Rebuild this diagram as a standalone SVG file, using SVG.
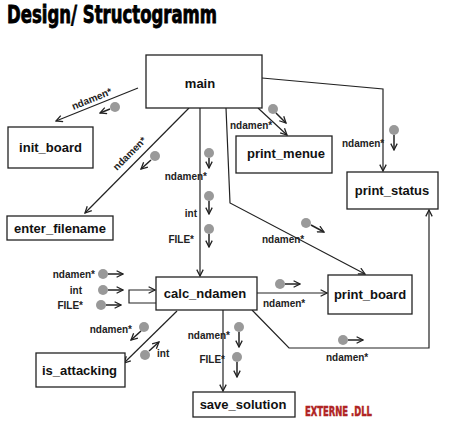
<svg xmlns="http://www.w3.org/2000/svg" width="450" height="428" viewBox="0 0 450 428">
<style>
.box{fill:#fff;stroke:#222;stroke-width:1.3}
.nt{font-family:"Liberation Sans",Arial,sans-serif;font-weight:bold;font-size:13px;fill:#111;text-anchor:middle}
.lb{font-family:"Liberation Sans",Arial,sans-serif;font-weight:bold;font-size:10px;fill:#222}
.e{text-anchor:end}
.c{fill:none;stroke:#222;stroke-width:1.2;marker-end:url(#ah)}
.s{fill:none;stroke:#222;stroke-width:1.5;marker-end:url(#ah)}
.d{fill:#999}
</style>
<defs>
<marker id="ah" viewBox="0 0 10 10" refX="9" refY="5" markerWidth="8" markerHeight="8" markerUnits="userSpaceOnUse" orient="auto">
<path d="M1,1 L9,5 L1,9" fill="none" stroke="#222" stroke-width="1.6"/>
</marker>
</defs>
<rect width="450" height="428" fill="#fff"/>
<text x="7" y="23" font-family="'Liberation Sans Narrow','DejaVu Sans Condensed',sans-serif" font-weight="bold" font-size="24" textLength="210" lengthAdjust="spacingAndGlyphs" fill="#000" stroke="#000" stroke-width="0.8">Design/ Structogramm</text>

<g id="connectors">
<polyline class="c" points="138,88 56,121"/>
<polyline class="c" points="189,108 85,213"/>
<polyline class="c" points="200,108 200,276"/>
<polyline class="c" points="258,108 287,135"/>
<polyline class="c" points="262,78 383,89 383,171"/>
<polyline class="c" points="226,108 230,203 365,274"/>
<polyline class="c" points="156,303 129,303 129,290 155,290"/>
<polyline class="c" points="257,293 327,293"/>
<polyline class="c" points="252,310 289,348 429,348 429,210"/>
<polyline class="c" points="223,310 223,391"/>
<polyline class="c" points="177,311 124,363"/>

<circle class="d" cx="115" cy="107" r="5"/><polyline class="s" points="110,109 100,113"/>
<circle class="d" cx="155" cy="156" r="5"/><polyline class="s" points="151,160 141,169"/>
<circle class="d" cx="209" cy="153" r="5"/><polyline class="s" points="209,158 209,168"/>
<circle class="d" cx="209" cy="196" r="5"/><polyline class="s" points="209,201 209,214"/>
<circle class="d" cx="209" cy="229" r="5"/><polyline class="s" points="209,234 209,247"/>
<circle class="d" cx="273" cy="109" r="5"/><polyline class="s" points="276,113 286,123"/>
<circle class="d" cx="394" cy="130" r="5"/><polyline class="s" points="394,135 394,150"/>
<circle class="d" cx="306" cy="223" r="5"/><polyline class="s" points="311,225 324,232"/>
<circle class="d" cx="103" cy="274" r="5"/><polyline class="s" points="108,274 123,274"/>
<circle class="d" cx="103" cy="290" r="5"/><polyline class="s" points="108,290 123,290"/>
<circle class="d" cx="101" cy="305" r="5"/><polyline class="s" points="106,305 121,305"/>
<circle class="d" cx="280" cy="284" r="5"/><polyline class="s" points="285,284 300,284"/>
<circle class="d" cx="343" cy="340" r="5"/><polyline class="s" points="348,340 363,340"/>
<circle class="d" cx="239" cy="327" r="5"/><polyline class="s" points="239,332 239,347"/>
<circle class="d" cx="237" cy="357" r="5"/><polyline class="s" points="237,362 237,377"/>
<circle class="d" cx="144" cy="327" r="5"/><polyline class="s" points="141,331 131,340"/>
<circle class="d" cx="145" cy="355" r="5"/><polyline class="s" points="149,351 159,342"/>

<text class="lb" x="93" y="102" text-anchor="middle" transform="rotate(-22 93 102)">ndamen*</text>
<text class="lb" x="132" y="156" text-anchor="middle" transform="rotate(-45 132 156)">ndamen*</text>
<text class="lb e" x="207" y="180">ndamen*</text>
<text class="lb e" x="197" y="217">int</text>
<text class="lb e" x="194" y="243">FILE*</text>
<text class="lb" x="230" y="129">ndamen*</text>
<text class="lb" x="342" y="147">ndamen*</text>
<text class="lb" x="262" y="243">ndamen*</text>
<text class="lb e" x="95" y="278">ndamen*</text>
<text class="lb e" x="82" y="294">int</text>
<text class="lb e" x="83" y="309">FILE*</text>
<text class="lb" x="263" y="307">ndamen*</text>
<text class="lb" x="326" y="361">ndamen*</text>
<text class="lb e" x="230" y="339">ndamen*</text>
<text class="lb e" x="225" y="363">FILE*</text>
<text class="lb e" x="132" y="333">ndamen*</text>
<text class="lb" x="157" y="357">int</text>
</g>

<g id="main"><rect class="box" x="146" y="55" width="116" height="53"/><text class="nt" x="200" y="88">main</text></g>
<g id="init_board"><rect class="box" x="8" y="127" width="85" height="41"/><text class="nt" x="50.5" y="152">init_board</text></g>
<g id="enter_filename"><rect class="box" x="7" y="216" width="106" height="24"/><text class="nt" x="60" y="232.5">enter_filename</text></g>
<g id="print_menue"><rect class="box" x="236" y="136" width="96" height="37"/><text class="nt" x="286" y="158">print_menue</text></g>
<g id="print_status"><rect class="box" x="347" y="172" width="91" height="37"/><text class="nt" x="392" y="195">print_status</text></g>
<g id="calc_ndamen"><rect class="box" x="156" y="277" width="101" height="33"/><text class="nt" x="205" y="298">calc_ndamen</text></g>
<g id="print_board"><rect class="box" x="328" y="275" width="84" height="39"/><text class="nt" x="370" y="299">print_board</text></g>
<g id="is_attacking"><rect class="box" x="36" y="353" width="89" height="34"/><text class="nt" x="79.5" y="375">is_attacking</text></g>
<g id="save_solution"><rect class="box" x="193" y="392" width="102" height="25"/><text class="nt" x="243" y="409">save_solution</text></g>

<text x="305" y="416" font-family="'Liberation Sans Narrow','DejaVu Sans Condensed',sans-serif" font-weight="bold" font-size="14" textLength="67" lengthAdjust="spacingAndGlyphs" fill="#b02424" stroke="#b02424" stroke-width="0.5">EXTERNE .DLL</text>
</svg>
